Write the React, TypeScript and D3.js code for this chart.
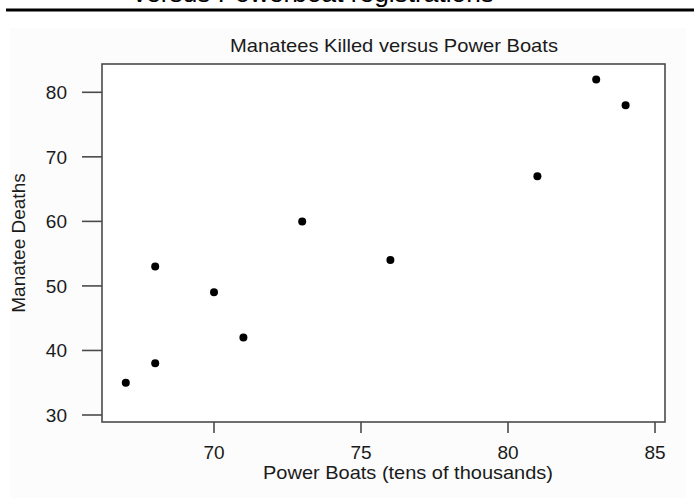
import React from "react";
import * as d3 from "d3";

const boats: number[] = [67, 68, 68, 70, 71, 73, 76, 81, 83, 84];
const deaths: number[] = [35, 38, 53, 49, 42, 60, 54, 67, 82, 78];
const xTicks: number[] = [70, 75, 80, 85];
const yTicks: number[] = [30, 40, 50, 60, 70, 80];
const title = "Manatees Killed versus Power Boats";
const xLabel = "Power Boats (tens of thousands)";
const yLabel = "Manatee Deaths";
const headerText = "versus Powerboat registrations";

const W = 698;
const H = 504;
const L = 102, R = 665, T = 64, B = 422;

export default function App() {
  const x = d3.scaleLinear().domain([70, 80]).range([214, 508]);
  const y = d3.scaleLinear().domain([30, 80]).range([415, 92.3]);
  const font = "'Liberation Sans', Arial, sans-serif";
  const axisCol = "#4a4a4a";
  const textCol = "#1a1a1a";
  return (
    <svg width={W} height={H} style={{ position: "absolute", left: 0, top: 0, background: "#fff" }} fontFamily={font}>
      <rect x={10} y={28} width={676} height={470} fill="#fcfcfc" />
      <text x={133} y={2} fontSize={26} fill="#000" textLength={361} lengthAdjust="spacingAndGlyphs">{headerText}</text>
      <line x1={6} x2={694} y1={10} y2={10} stroke="#000" strokeWidth={3} />
      <rect x={L} y={T} width={R - L} height={B - T} fill="#fff" stroke={axisCol} strokeWidth={1.6} />
      <text x={394} y={52} textAnchor="middle" fontSize={19} fill={textCol} textLength={328} lengthAdjust="spacingAndGlyphs">{title}</text>
      {yTicks.map((t) => (
        <g key={"y" + t}>
          <line x1={82} x2={L} y1={y(t)} y2={y(t)} stroke={axisCol} strokeWidth={1.6} />
          <text x={67} y={y(t)} dy="0.36em" textAnchor="end" fontSize={19} fill={textCol}>{t}</text>
        </g>
      ))}
      {xTicks.map((t) => (
        <g key={"x" + t}>
          <line x1={x(t)} x2={x(t)} y1={B} y2={433} stroke={axisCol} strokeWidth={1.6} />
          <text x={x(t)} y={459} textAnchor="middle" fontSize={19} fill={textCol}>{t}</text>
        </g>
      ))}
      <text x={408} y={479} textAnchor="middle" fontSize={19} fill={textCol} textLength={290} lengthAdjust="spacingAndGlyphs">{xLabel}</text>
      <text transform={`translate(25,${(T + B) / 2}) rotate(-90)`} textAnchor="middle" fontSize={19} fill={textCol}>{yLabel}</text>
      {boats.map((b, i) => (
        <circle key={i} cx={x(b)} cy={y(deaths[i])} r={4} fill="#000" />
      ))}
    </svg>
  );
}
